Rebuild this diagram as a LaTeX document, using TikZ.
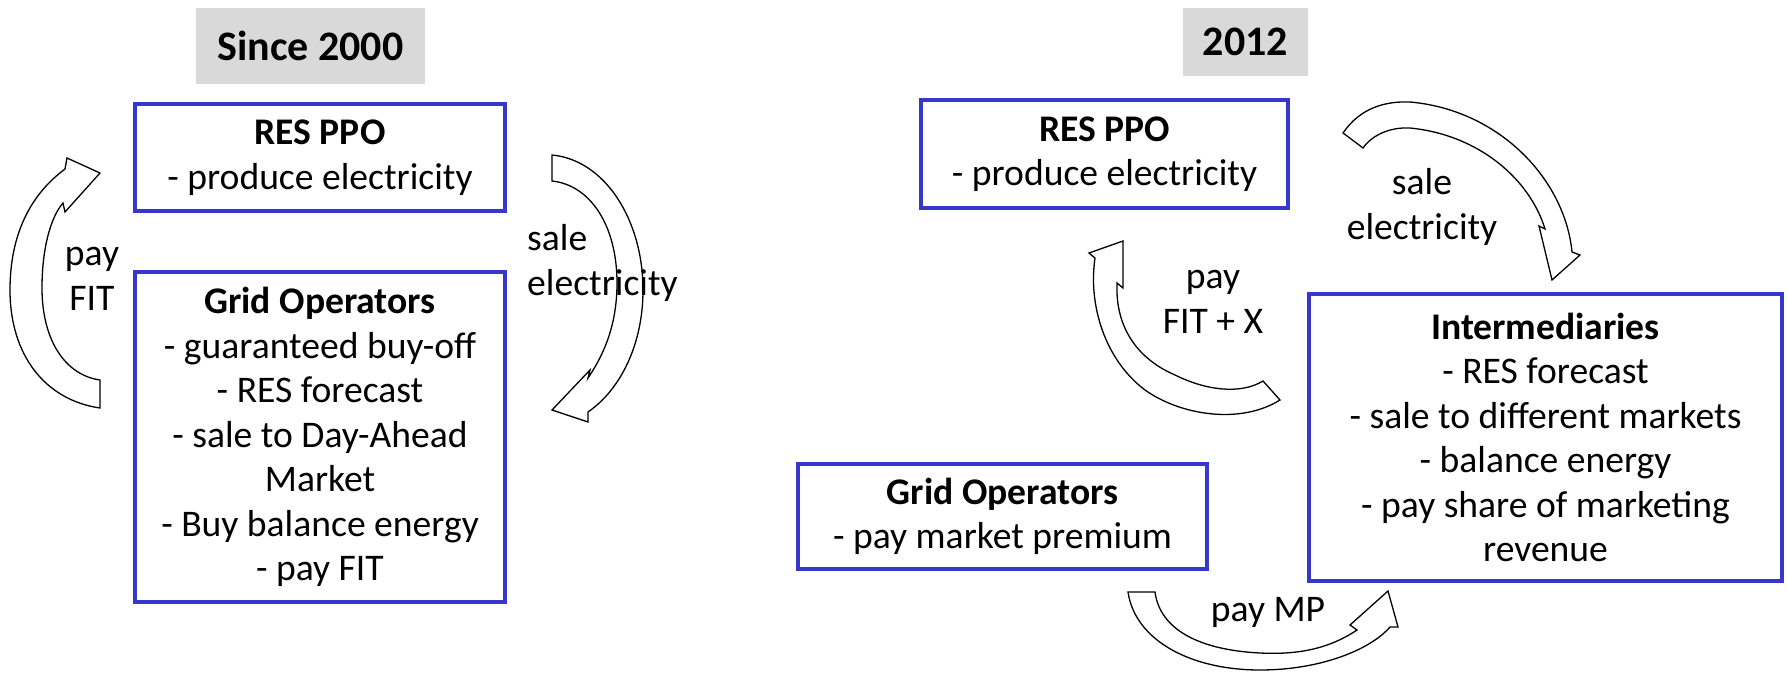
\documentclass[tikz,border=0pt]{standalone}
\usepackage{fontspec}
\setmainfont{Carlito}
\definecolor{boxblue}{RGB}{55,55,205}
\definecolor{titlegray}{RGB}{217,217,217}
\begin{document}
\begin{tikzpicture}[x=1pt,y=-1pt,
  box/.style={draw=boxblue,line width=4pt,fill=white,align=center,inner sep=0pt,
    font=\fontsize{37.6}{44.5}\selectfont},
  titlebox/.style={fill=titlegray,inner sep=0pt,font=\fontsize{42}{50}\selectfont\bfseries},
  lbl/.style={inner sep=0pt,font=\fontsize{37.6}{44.5}\selectfont},
  blockarrow/.style={draw=black,line width=1.3pt,fill=white,line join=miter}]
\useasboundingbox (0,0) rectangle (1787,680);

% titles
\node[titlebox,minimum width=229pt,minimum height=76pt] (t1) at (310.5,46) {Since 2000};
\node[titlebox,minimum width=125pt,minimum height=68pt] (t2) at (1245.5,42) {2012};

% block arrows
% left: pay FIT
\draw[blockarrow] (100,408) .. controls (45,400) and (10,355) .. (10,290)
  .. controls (10,235) and (30,195) .. (65,169)
  -- (67,158) -- (100,173) -- (65,212) -- (63,203)
  .. controls (50,218) and (42,250) .. (42,288)
  .. controls (42,340) and (65,375) .. (100,380) -- cycle;
% left: sale electricity
\draw[blockarrow] (552,155) .. controls (605,160) and (643,220) .. (643,290)
  .. controls (643,345) and (620,390) .. (588,412)
  -- (588,422) -- (552,410) -- (590,370) -- (588,378)
  .. controls (607,350) and (617,320) .. (617,283)
  .. controls (617,225) and (590,185) .. (552,181) -- cycle;
% right: sale electricity
\draw[blockarrow] (1343,133) .. controls (1360,108) and (1385,101) .. (1410,102)
  .. controls (1500,110) and (1565,180) .. (1572,252)
  -- (1580,255) -- (1552,280) -- (1539,226) -- (1545,229)
  .. controls (1530,180) and (1480,135) .. (1410,128)
  .. controls (1390,127) and (1372,135) .. (1363,148) -- cycle;
% right: pay FIT + X
\draw[blockarrow] (1280,400) .. controls (1240,425) and (1180,415) .. (1145,390)
  .. controls (1105,360) and (1088,305) .. (1095,258)
  -- (1089,253) -- (1123,241) -- (1123,288) -- (1117,283)
  .. controls (1115,330) and (1140,360) .. (1175,375)
  .. controls (1205,390) and (1240,395) .. (1263,381) -- cycle;
% right: pay MP
\draw[blockarrow] (1128,592) .. controls (1135,640) and (1190,670) .. (1260,670)
  .. controls (1320,670) and (1370,650) .. (1390,627)
  -- (1398,627) -- (1388,591) -- (1350,625) -- (1357,630)
  .. controls (1330,648) and (1300,655) .. (1260,653)
  .. controls (1200,650) and (1160,630) .. (1155,592) -- cycle;

% boxes
\node[box,minimum width=370pt,minimum height=107pt] (ppo1) at (320,157.5)
  {\textbf{RES PPO}\\- produce electricity};
\node[box,minimum width=370pt,minimum height=330pt] (grid1) at (320,437)
  {\textbf{Grid Operators}\\- guaranteed buy-off\\- RES forecast\\- sale to Day-Ahead\\Market\\- Buy balance energy\\- pay FIT};
\node[box,minimum width=367pt,minimum height=108pt] (ppo2) at (1104.5,154)
  {\textbf{RES PPO}\\- produce electricity};
\node[box,minimum width=473pt,minimum height=287pt] (inter) at (1545.5,437.5)
  {\textbf{Intermediaries}\\- RES forecast\\- sale to different markets\\- balance energy\\- pay share of marketing\\revenue};
\node[box,minimum width=409pt,minimum height=105pt] (grid2) at (1002.5,516.5)
  {\textbf{Grid Operators}\\- pay market premium};

% labels
\node[lbl,align=center] (l1) at (92,279) {pay\\FIT};
\node[lbl,align=left,anchor=west] (l2) at (527,263) {sale\\electricity};
\node[lbl,align=center] (l3) at (1422,207) {sale\\electricity};
\node[lbl,align=center] (l4) at (1213,302) {pay\\FIT + X};
\node[lbl,align=center] (l5) at (1268,612) {pay MP};
\end{tikzpicture}
\end{document}
